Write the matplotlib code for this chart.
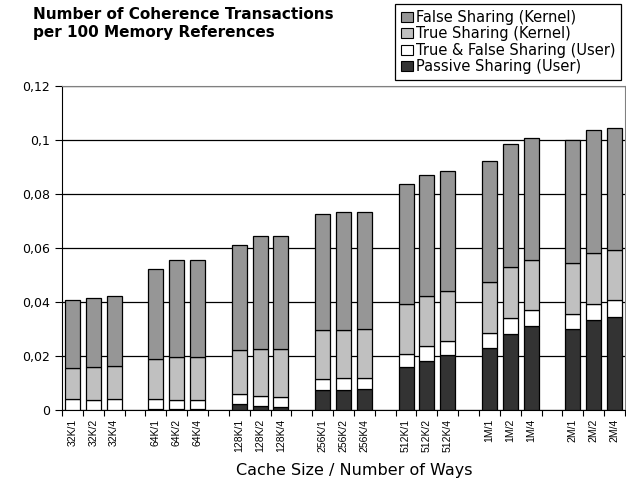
import matplotlib
matplotlib.use("Agg")
import matplotlib.pyplot as plt
from matplotlib.patches import Patch
import numpy as np

plt.rcParams['font.family'] = ['DejaVu Sans']

labels = ["32K/1", "32K/2", "32K/4", "",
          "64K/1", "64K/2", "64K/4", "",
          "128K/1", "128K/2", "128K/4", "",
          "256K/1", "256K/2", "256K/4", "",
          "512K/1", "512K/2", "512K/4", "",
          "1M/1", "1M/2", "1M/4", "",
          "2M/1", "2M/2", "2M/4"]

# cumulative tops (None for gap slots)
total_top = [0.0407, 0.0416, 0.0423, None,
             0.0523, 0.0556, 0.0556, None,
             0.0611, 0.0643, 0.0643, None,
             0.0725, 0.0735, 0.0735, None,
             0.0838, 0.0871, 0.0886, None,
             0.0923, 0.0985, 0.1006, None,
             0.0999, 0.1037, 0.1046]
true_kernel_top = [0.0157, 0.0159, 0.0162, None,
                   0.0188, 0.0195, 0.0195, None,
                   0.0221, 0.0226, 0.0226, None,
                   0.0296, 0.0296, 0.0300, None,
                   0.0393, 0.0422, 0.0442, None,
                   0.0474, 0.0530, 0.0554, None,
                   0.0544, 0.0581, 0.0593]
user_tf_top = [0.0040, 0.0037, 0.0040, None,
               0.0042, 0.0037, 0.0037, None,
               0.0058, 0.0051, 0.0049, None,
               0.0115, 0.0117, 0.0119, None,
               0.0207, 0.0236, 0.0257, None,
               0.0286, 0.0341, 0.0369, None,
               0.0354, 0.0391, 0.0406]
passive_user = [0.0, 0.0, 0.0, None,
                0.0004, 0.0002, 0.0002, None,
                0.0021, 0.0014, 0.0011, None,
                0.0074, 0.0074, 0.0076, None,
                0.0158, 0.0182, 0.0204, None,
                0.0231, 0.0281, 0.0310, None,
                0.0299, 0.0332, 0.0344]

series_names = ["False Sharing (Kernel)", "True Sharing (Kernel)",
                "True & False Sharing (User)", "Passive Sharing (User)"]
colors = ["#969696", "#c0c0c0", "#ffffff", "#333333"]

def arr(v):
    return np.array([np.nan if x is None else x for x in v])

tot = arr(total_top)
tk = arr(true_kernel_top)
ut = arr(user_tf_top)
ps = arr(passive_user)

passive = ps
userv = ut - ps
truek = tk - ut
falsek = tot - tk

x = np.arange(len(labels))
W, H = 626, 480
fig = plt.figure(figsize=(W/100, H/100), dpi=100)
ax = fig.add_axes([62/W, 1-410/H, (625-62)/W, (410-86)/H])

w = 0.72
mask = ~np.isnan(tot)
xs = x[mask]
bottoms = np.zeros(mask.sum())
for vals, col in zip([passive, userv, truek, falsek], colors[::-1]):
    v = vals[mask]
    ax.bar(xs, v, w, bottom=bottoms, color=col, edgecolor='black', linewidth=0.9, zorder=3)
    bottoms = bottoms + v

ax.set_xlim(-0.5, len(labels)-0.5)
ax.set_ylim(0, 0.12)
yt = [0, 0.02, 0.04, 0.06, 0.08, 0.1, 0.12]
ax.set_yticks(yt)
ax.set_yticklabels(["0", "0,02", "0,04", "0,06", "0,08", "0,1", "0,12"], fontsize=9)
ax.yaxis.grid(True, color='black', linewidth=0.9, zorder=0)
ax.set_axisbelow(True)

ax.set_xticks(np.arange(len(labels)+1) - 0.5)
ax.set_xticklabels([])
ax.set_xticks(x, minor=True)
ax.set_xticklabels(labels, minor=True, rotation=90, fontsize=7.5,
                   family='Liberation Sans', va='top')
ax.tick_params(axis='x', which='minor', length=0, pad=6.5)
ax.tick_params(axis='x', which='major', length=4, direction='out')
ax.tick_params(axis='y', length=5, direction='out', pad=3.5)

for s in ['top', 'right']:
    ax.spines[s].set_color('#808080')
for s in ['left', 'bottom']:
    ax.spines[s].set_color('black')

fig.text(354/W, 1-475/H, "Cache Size / Number of Ways", fontsize=11.5,
         ha='center', va='baseline')

fig.text(33/W, 1-7/H, "Number of Coherence Transactions\nper 100 Memory References",
         fontsize=11, fontweight='bold', va='top', ha='left', linespacing=1.25)

handles = [Patch(facecolor=c, edgecolor='black', linewidth=0.8) for c in colors]
leg = fig.legend(handles, series_names, loc='upper right',
                 bbox_to_anchor=(621/W, 1-4/H), fontsize=10.5,
                 fancybox=False, edgecolor='black', framealpha=1,
                 handlelength=0.85, handleheight=0.7, handletextpad=0.15,
                 labelspacing=0.1, borderpad=0.4, borderaxespad=0)
leg.get_frame().set_linewidth(0.9)

fig.savefig("out.png", dpi=100)
